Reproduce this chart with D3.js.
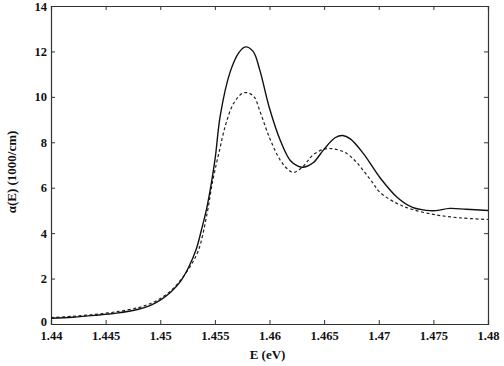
<!DOCTYPE html>
<html>
<head>
<meta charset="utf-8">
<script src="https://cdn.jsdelivr.net/npm/d3@7"></script>
<style>
  body { margin: 0; background: #fff; }
  .axis text { font-family: "Liberation Serif", "Times New Roman", serif; font-size: 12.5px; font-weight: bold; fill: #111; }
  .axis-label { font-family: "Liberation Serif", "Times New Roman", serif; font-size: 13px; font-weight: bold; fill: #111; }
</style>
</head>
<body>
<div id="chart"></div>
<script>
// photon energy (eV) and absorption (1000/cm)
var solidE = [1.440, 1.442, 1.444, 1.446, 1.448, 1.449, 1.450, 1.451, 1.4518, 1.4526, 1.4533, 1.4538, 1.4543, 1.4550, 1.4555, 1.4564, 1.4572, 1.4578, 1.4585, 1.4591, 1.4600, 1.4610, 1.4619, 1.4626, 1.4631, 1.4640, 1.4650, 1.4660, 1.4667, 1.4674, 1.4686, 1.4701, 1.4717, 1.4731, 1.4744, 1.4752, 1.4765, 1.4780, 1.4800];
var solidA = [0.25, 0.30, 0.38, 0.48, 0.65, 0.80, 1.05, 1.42, 1.84, 2.5, 3.3, 4.2, 5.2, 7.2, 9.2, 11.1, 11.95, 12.2, 12.0, 11.2, 9.5, 8.07, 7.2, 6.95, 6.9, 7.1, 7.7, 8.2, 8.3, 8.15, 7.5, 6.45, 5.57, 5.13, 5.0, 4.99, 5.09, 5.05, 5.0];

var dashE = [1.440, 1.442, 1.444, 1.446, 1.448, 1.449, 1.450, 1.451, 1.4518, 1.4527, 1.4535, 1.4543, 1.4548, 1.4554, 1.4560, 1.4567, 1.4575, 1.4580, 1.4586, 1.4591, 1.4600, 1.4610, 1.4617, 1.4622, 1.4630, 1.4640, 1.4650, 1.4657, 1.4664, 1.4671, 1.4679, 1.4686, 1.4694, 1.4701, 1.4717, 1.4731, 1.4753, 1.4775, 1.4800];
var dashA = [0.28, 0.34, 0.42, 0.54, 0.72, 0.88, 1.12, 1.48, 1.9, 2.5, 3.25, 4.9, 6.3, 7.6, 8.8, 9.7, 10.15, 10.18, 10.0, 9.4, 8.2, 7.2, 6.8, 6.67, 6.9, 7.45, 7.7, 7.72, 7.65, 7.5, 7.15, 6.75, 6.25, 5.8, 5.3, 5.04, 4.8, 4.67, 4.6];

var xTicks = [1.44, 1.445, 1.45, 1.455, 1.46, 1.465, 1.47, 1.475, 1.48];
var yTicks = [0, 2, 4, 6, 8, 10, 12, 14];

var margin = { top: 6, right: 16, bottom: 42, left: 51 };
var width = 504 - margin.left - margin.right,
    height = 366 - margin.top - margin.bottom;

var svg = d3.select("#chart").append("svg")
    .attr("width", 504)
    .attr("height", 366)
    .append("g")
    .attr("transform", "translate(" + margin.left + "," + margin.top + ")");

var x = d3.scaleLinear().domain([1.44, 1.48]).range([0, width]);
var y = d3.scaleLinear().domain([0, 14]).range([height, 0]);

function fmtX(d) { return String(+d.toFixed(3)); }

// axes, ticks pointing inward on all four sides
var styleAxis = function(g) {
    g.select(".domain").attr("stroke", "#333").attr("stroke-width", 1.2);
    g.selectAll(".tick line").attr("stroke", "#333");
};

svg.append("g")
    .attr("class", "axis")
    .attr("transform", "translate(0," + height + ")")
    .call(d3.axisBottom(x).tickValues(xTicks).tickSize(-4).tickPadding(7).tickFormat(fmtX))
    .call(styleAxis);

svg.append("g")
    .attr("class", "axis")
    .call(d3.axisTop(x).tickValues(xTicks).tickSize(-4).tickFormat(""))
    .call(styleAxis);

svg.append("g")
    .attr("class", "axis y-left")
    .call(d3.axisLeft(y).tickValues(yTicks).tickSize(-4).tickPadding(4))
    .call(styleAxis);

// the zero label sits a little higher, clear of the 1.44 label
svg.selectAll(".y-left .tick text")
    .filter(function(d) { return d === 0; })
    .attr("dy", "0.1em");

svg.append("g")
    .attr("class", "axis")
    .attr("transform", "translate(" + width + ",0)")
    .call(d3.axisRight(y).tickValues(yTicks).tickSize(-4).tickFormat(""))
    .call(styleAxis);

var line = d3.line()
    .curve(d3.curveCatmullRom.alpha(0.5))
    .x(function(d) { return x(d[0]); })
    .y(function(d) { return y(d[1]); });

svg.append("path")
    .datum(d3.zip(dashE, dashA))
    .attr("fill", "none")
    .attr("stroke", "#222")
    .attr("stroke-width", 1.2)
    .attr("stroke-dasharray", "3,2.5")
    .attr("d", line);

svg.append("path")
    .datum(d3.zip(solidE, solidA))
    .attr("fill", "none")
    .attr("stroke", "#111")
    .attr("stroke-width", 1.4)
    .attr("d", line);

// axis labels
svg.append("text")
    .attr("class", "axis-label")
    .attr("x", width / 2 - 2)
    .attr("y", height + 35)
    .style("text-anchor", "middle")
    .text("E (eV)");

svg.append("text")
    .attr("class", "axis-label")
    .attr("transform", "rotate(-90)")
    .attr("x", -166)
    .attr("y", -35)
    .style("text-anchor", "middle")
    .text("α(E) (1000/cm)");
</script>
</body>
</html>
